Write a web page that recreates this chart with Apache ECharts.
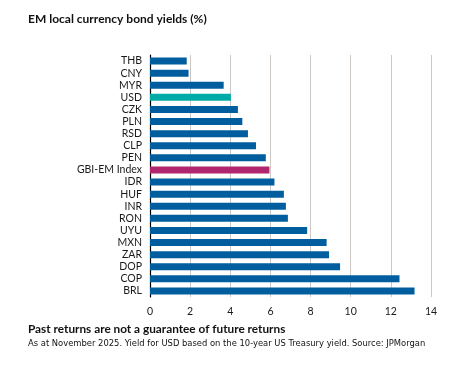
<!DOCTYPE html>
<html>
<head>
<meta charset="utf-8">
<script src="https://cdn.jsdelivr.net/npm/echarts@6/dist/echarts.min.js"></script>
<style>html,body{margin:0;padding:0;background:#fff}#c{width:461px;height:368px}</style>
</head>
<body>
<div id="c"></div>
<script>
const categories = ["THB","CNY","MYR","USD","CZK","PLN","RSD","CLP","PEN","GBI-EM Index","IDR","HUF","INR","RON","UYU","MXN","ZAR","DOP","COP","BRL"];
const values = [1.83,1.92,3.67,4.03,4.38,4.6,4.88,5.28,5.77,5.95,6.2,6.67,6.77,6.87,7.83,8.8,8.92,9.47,12.43,13.18];
const xTicks = [0,2,4,6,8,10,12,14];
const titleText = "EM local currency bond yields (%)";
const noteBold = "Past returns are not a guarantee of future returns";
const noteSmall = "As at November 2025. Yield for USD based on the 10-year US Treasury yield. Source: JPMorgan";

const BLUE = "#005e9e", TEAL = "#00aaa6", MAGENTA = "#b1276f";
const FONT = "Lato";
const chart = echarts.init(document.getElementById('c'), null, {renderer:'canvas'});
chart.setOption({
  animation:false,
  backgroundColor:'#fff',
  grid:{left:150,right:30,top:55,bottom:71,containLabel:false},
  xAxis:{type:'value',min:xTicks[0],max:xTicks[xTicks.length-1],interval:2,
    axisLine:{show:false},axisTick:{show:false},
    axisLabel:{color:'#1a1a1a',fontSize:10.5,fontFamily:FONT,margin:9},
    splitLine:{show:true,lineStyle:{color:'#cdc8c3',width:1}}},
  yAxis:{type:'category',data:categories,inverse:true,
    axisLine:{show:true,lineStyle:{color:'#000',width:1.2}},
    axisTick:{show:false},
    axisLabel:{interval:0,color:'#1a1a1a',fontSize:10.5,fontFamily:FONT,margin:8}},
  series:[{type:'bar',barWidth:7,
    data:values.map((v,i)=>({value:v,itemStyle:{color: categories[i]==='USD'?TEAL:(categories[i]==='GBI-EM Index'?MAGENTA:BLUE)}}))}],
  graphic:[
    {type:'text',left:28,top:13,style:{text:titleText,font:'bold 12px '+FONT,fill:'#111'}},
    {type:'text',left:28,top:323,style:{text:noteBold,font:'bold 11.8px '+FONT,fill:'#111'}},
    {type:'text',left:28,top:340,style:{text:noteSmall,font:'8.4px "DejaVu Sans"',fill:'#111'}}
  ]
});
</script>
</body>
</html>
